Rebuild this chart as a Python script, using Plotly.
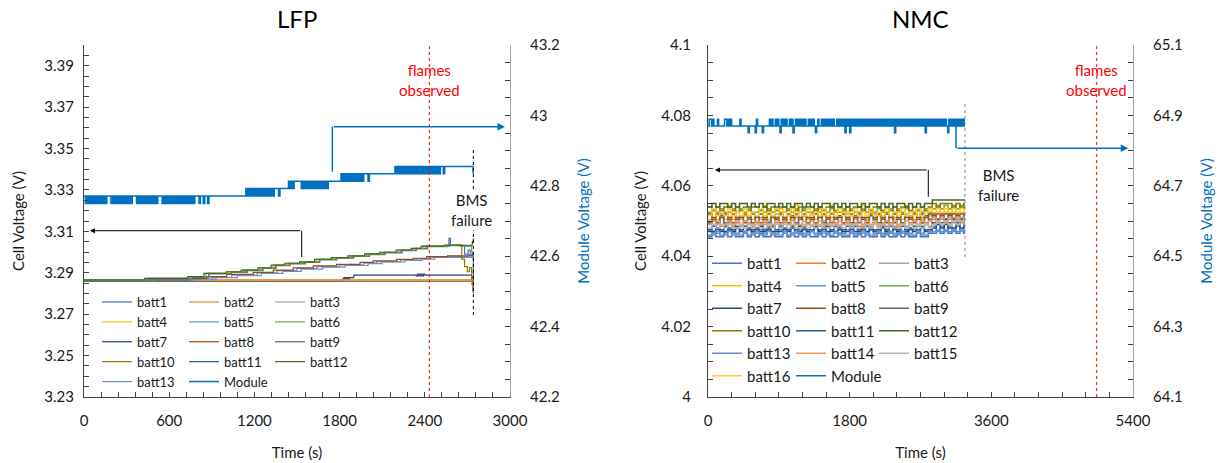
import plotly.graph_objects as go

W, H = 1224, 463
FONT = "Lato"
TXT = "#1a1a1a"
PAL = ["#4472C4", "#ED7D31", "#A5A5A5", "#FFC000", "#5B9BD5", "#70AD47", "#264478", "#9E480E",
       "#636363", "#997300", "#255E91", "#43682B", "#698ED0", "#F1975A", "#B7B7B7", "#FFCD33"]
MODULE_COLOR = "#0070C0"

# ---------------- LFP cell data (time s, voltage V) ----------------
lfp_b1_t = [0, 470, 770, 880, 1040, 1150, 1260, 1350, 1450, 1560, 1660, 1780, 1900, 2010, 2120, 2240, 2340, 2420, 2560, 2570, 2580, 2680, 2705, 2720, 2735, 2742]
lfp_b1_v = [3.2865, 3.2870, 3.2878, 3.2894, 3.2902, 3.2910, 3.2921, 3.2934, 3.2943, 3.2950, 3.2962, 3.2970, 3.2979, 3.2988, 3.2996, 3.3007, 3.3015, 3.3026, 3.3031, 3.3066, 3.3031, 3.2990, 3.3010, 3.2986, 3.2995, 3.2802]
lfp_b2_t = [0, 2735, 2742]
lfp_b2_v = [3.2866, 3.2840, 3.2815]
lfp_b3_t = [0, 2730, 2742]
lfp_b3_v = [3.2862, 3.2850, 3.2825]
lfp_b4_t = [0, 2735, 2742]
lfp_b4_v = [3.2864, 3.2855, 3.2830]
lfp_b5_t = [0, 780, 900, 1040, 1220, 1360, 1500, 1640, 1800, 1970, 2060, 2230, 2340, 2440, 2560, 2600, 2700, 2742]
lfp_b5_v = [3.2865, 3.2870, 3.2878, 3.2889, 3.2899, 3.2910, 3.2921, 3.2930, 3.2938, 3.2947, 3.2954, 3.2962, 3.2967, 3.2975, 3.2980, 3.2978, 3.2985, 3.2990]
lfp_b6_t = [0, 441, 746, 859, 1016, 1122, 1239, 1333, 1427, 1533, 1639, 1756, 1873, 1991, 2096, 2213, 2319, 2389, 2554, 2700, 2730, 2742]
lfp_b6_v = [3.2865, 3.2873, 3.2881, 3.2897, 3.2905, 3.2913, 3.2924, 3.2937, 3.2946, 3.2953, 3.2965, 3.2973, 3.2982, 3.2991, 3.2999, 3.3010, 3.3018, 3.3029, 3.3034, 3.3030, 3.3000, 3.2990]
lfp_b7_t = [0, 440, 510, 1820, 1830, 1840, 1850, 1860, 1870, 1900, 2340, 2350, 2360, 2370, 2380, 2390, 2400, 2730, 2742]
lfp_b7_v = [3.2861, 3.2869, 3.2861, 3.2869, 3.2877, 3.2869, 3.2877, 3.2869, 3.2877, 3.2889, 3.2885, 3.2893, 3.2885, 3.2893, 3.2885, 3.2893, 3.2889, 3.2880, 3.2802]
lfp_b8_t = [0, 746, 864, 1005, 1192, 1333, 1474, 1615, 1779, 1944, 2037, 2202, 2319, 2413, 2560, 2742]
lfp_b8_v = [3.2865, 3.2873, 3.2881, 3.2892, 3.2902, 3.2913, 3.2924, 3.2933, 3.2941, 3.2950, 3.2957, 3.2965, 3.2970, 3.2978, 3.2982, 3.2982]
lfp_b9_t = [0, 2732, 2742]
lfp_b9_v = [3.2860, 3.2845, 3.2812]
lfp_b10_t = [0, 461, 766, 879, 1036, 1142, 1259, 1353, 1447, 1553, 1659, 1776, 1893, 2011, 2116, 2233, 2339, 2409, 2574, 2660, 2680, 2700, 2715, 2730, 2742]
lfp_b10_v = [3.2865, 3.2873, 3.2881, 3.2897, 3.2905, 3.2913, 3.2924, 3.2937, 3.2946, 3.2953, 3.2965, 3.2973, 3.2982, 3.2991, 3.2999, 3.3010, 3.3018, 3.3029, 3.3034, 3.2966, 3.2930, 3.2905, 3.2925, 3.2865, 3.2817]
lfp_b11_t = [0, 2738, 2742]
lfp_b11_v = [3.2861, 3.2855, 3.2830]
lfp_b12_t = [0, 426, 731, 844, 1001, 1107, 1224, 1318, 1412, 1518, 1624, 1741, 1858, 1976, 2081, 2198, 2304, 2374, 2539, 2650, 2720, 2735, 2742]
lfp_b12_v = [3.2865, 3.2873, 3.2881, 3.2897, 3.2905, 3.2913, 3.2924, 3.2937, 3.2946, 3.2953, 3.2965, 3.2973, 3.2982, 3.2991, 3.2999, 3.3010, 3.3018, 3.3029, 3.3034, 3.3030, 3.3034, 3.3050, 3.3067]
lfp_b13_t = [0, 800, 930, 1080, 1250, 1400, 1530, 1680, 1840, 2000, 2100, 2260, 2380, 2470, 2742]
lfp_b13_v = [3.2865, 3.2869, 3.2877, 3.2886, 3.2897, 3.2907, 3.2918, 3.2927, 3.2935, 3.2944, 3.2952, 3.2960, 3.2966, 3.2974, 3.2978]

# LFP module: one reading every 10 s, digit = level index (42.750 V + k * 0.021 V)
lfp_module_dt = 10
lfp_module_base = 42.750
lfp_module_lsb = 0.021
lfp_module_codes = (
    "1010101010" "1010101110" "1010101010" "1010111010" "1010101010" "1011101010" "1010101010" "1010101011" "10"
    "1101101111" "1111111111" "1111111111" "11"
    "2121212121" "21212121"
    "2122212222" "22"
    "3232333332" "3232323232" "323232323"
    "33333333"
    "4343434343" "4343434443" "4"
    "4444444444" "4444444"
    "5454545454" "5454545454" "5454545454" "54"
    "5545555555" "5555555555" "55"
    "54"
)

# ---------------- NMC data ----------------
# cells: one reading every 50 s, digit = offset in mV above each cell's base voltage
nmc_cell_dt = 50
nmc_end_t = 3265
nmc_base = [4.0455, 4.0485, 4.0490, 4.0505, 4.0465, 4.0525, 4.0470, 4.0510,
            4.0495, 4.0530, 4.0475, 4.0540, 4.0460, 4.0490, 4.0480, 4.0515]
nmc_b1_codes = "01001010010" "10100100101" "01010010100" "10010101001" "01001010010" "01121212121"
nmc_b2_codes = "10100101001" "01010010110" "10010100101" "01101001010" "10100101001" "10212121212"
nmc_b3_codes = "01030102010" "00201030100" "20103001020" "10300201030" "01020030102" "01212132121"
nmc_b4_codes = "03010402013" "01040203010" "40102031040" "12030140201" "03102041030" "21323232323"
nmc_b5_codes = "10010100101" "00101001010" "01001010010" "10100100101" "01001010100" "11212121212"
nmc_b6_codes = "01010010101" "00101010010" "10100101010" "01010010101" "00101010010" "10121212121"
nmc_b7_codes = "00100101001" "01001000101" "00100101000" "10010010100" "10010001001" "00121211212"
nmc_b8_codes = "10101010010" "10101001010" "10100101010" "01010100101" "01010100101" "01111111111"
nmc_b9_codes = "01020101201" "02010210102" "01201020101" "20102010210" "10201021010" "21212121212"
nmc_b10_codes = "10101101010" "11010101101" "01011010110" "10101101011" "01010110101" "01212221212"
nmc_b11_codes = "01001001010" "00100101001" "01000100101" "00101001000" "10100100101" "00232323232"
nmc_b12_codes = "01011010110" "10101101010" "11010101101" "01011010110" "10101101010" "11222222222"
nmc_b13_codes = "00100100010" "01001000100" "10001001001" "00010010001" "00100100010" "01111111111"
nmc_b14_codes = "10100101010" "01010010101" "00101010010" "10100101010" "01010010101" "01212121212"
nmc_b15_codes = "01010100101" "01001010101" "00101010010" "10101001010" "10100101010" "10121212121"
nmc_b16_codes = "02010201020" "10201020102" "01020102010" "20102010201" "02010201020" "12121212121"

# NMC module: one reading every 15 s, digit = level index (64.851 V + k * 0.019 V)
nmc_module_dt = 15
nmc_module_base = 64.851
nmc_module_lsb = 0.019
nmc_module_codes = (
    "122121" "11211111221" "21211111112" "1111110111110" "2111101111"
    "1212112121021212112120121"
    "2121212112121210121121212121212112121212021"
    "2021212121" "2121212121" "2121212121" "2121212120" "2121212121"
    "2121212121" "2121202121" "2121212121" "2121021212" "121212121"
)

lfp_cells = [(lfp_b1_t, lfp_b1_v), (lfp_b2_t, lfp_b2_v), (lfp_b3_t, lfp_b3_v), (lfp_b4_t, lfp_b4_v),
             (lfp_b5_t, lfp_b5_v), (lfp_b6_t, lfp_b6_v), (lfp_b7_t, lfp_b7_v), (lfp_b8_t, lfp_b8_v),
             (lfp_b9_t, lfp_b9_v), (lfp_b10_t, lfp_b10_v), (lfp_b11_t, lfp_b11_v), (lfp_b12_t, lfp_b12_v),
             (lfp_b13_t, lfp_b13_v)]
nmc_codes = [nmc_b1_codes, nmc_b2_codes, nmc_b3_codes, nmc_b4_codes, nmc_b5_codes, nmc_b6_codes,
             nmc_b7_codes, nmc_b8_codes, nmc_b9_codes, nmc_b10_codes, nmc_b11_codes, nmc_b12_codes,
             nmc_b13_codes, nmc_b14_codes, nmc_b15_codes, nmc_b16_codes]
# drawing order (dark flat lines underneath, staircases on top); legend order kept via legendrank
lfp_draw_order = [8, 10, 6, 2, 3, 1, 12, 4, 7, 0, 9, 5, 11]

LFP_LEG = ["legend", "legend2", "legend3"]
NMC_LEG = ["legend4", "legend5", "legend6"]

fig = go.Figure()

# ---- LFP traces ----
for i in lfp_draw_order:
    t, v = lfp_cells[i]
    fig.add_trace(go.Scatter(x=t, y=v, mode="lines", name=f"batt{i+1}", line=dict(color=PAL[i], width=1.2, shape="hv"),
                             xaxis="x", yaxis="y", legend=LFP_LEG[i % 3], legendrank=i + 1))
lfp_mod_t = [k * lfp_module_dt for k in range(len(lfp_module_codes))]
lfp_mod_v = [lfp_module_base + int(c) * lfp_module_lsb for c in lfp_module_codes]
fig.add_trace(go.Scatter(x=lfp_mod_t, y=lfp_mod_v, mode="lines", name="Module",
                         line=dict(color=MODULE_COLOR, width=1.5, shape="hv"),
                         xaxis="x", yaxis="y2", legend=LFP_LEG[13 % 3], legendrank=14))

# ---- NMC traces ----
for i, codes in enumerate(nmc_codes):
    t = [k * nmc_cell_dt for k in range(len(codes))] + [nmc_end_t]
    v = [nmc_base[i] + int(c) * 0.001 for c in codes]
    v = v + [v[-1]]
    fig.add_trace(go.Scatter(x=t, y=v, mode="lines", name=f"batt{i+1}", line=dict(color=PAL[i], width=1.5, shape="hv"),
                             xaxis="x2", yaxis="y3", legend=NMC_LEG[i % 3], legendrank=i + 1))
nmc_mod_t = [k * nmc_module_dt for k in range(len(nmc_module_codes))] + [nmc_end_t]
nmc_mod_v = [nmc_module_base + int(c) * nmc_module_lsb for c in nmc_module_codes]
nmc_mod_v = nmc_mod_v + [nmc_mod_v[-1]]
fig.add_trace(go.Scatter(x=nmc_mod_t, y=nmc_mod_v, mode="lines", name="Module",
                         line=dict(color=MODULE_COLOR, width=1.5, shape="hv"),
                         xaxis="x2", yaxis="y4", legend=NMC_LEG[16 % 3], legendrank=17))

# ---------------- layout ----------------
def px_x(p):
    return p / W

def px_y(p):
    return 1 - p / H

XD1 = [px_x(84), px_x(510)]
XD2 = [px_x(708), px_x(1133)]
YD = [px_y(397), px_y(45)]
AX_DARK = "#404040"
AX_GRAY = "#a6a6a6"
tickfont = dict(family=FONT, size=15, color=TXT)
titlefont = dict(family=FONT, size=15, color=TXT)


def xax(domain, rng, dt, mdt, anchor):
    return dict(domain=domain, range=rng, tick0=0, dtick=dt, ticks="inside", ticklen=5, tickcolor=AX_DARK,
                minor=dict(dtick=mdt, ticks="inside", ticklen=5, tickcolor=AX_DARK),
                showline=True, linecolor=AX_DARK, linewidth=1, showgrid=False, zeroline=False,
                anchor=anchor, tickfont=tickfont, ticklabelstandoff=10, automargin=False,
                title=dict(text="Time (s)", font=titlefont, standoff=19))


def xtop(over, rng, dt, mdt, anchor):
    return dict(overlaying=over, side="top", range=rng, tick0=0, dtick=dt, ticks="inside", ticklen=5,
                tickcolor=AX_DARK, minor=dict(dtick=mdt, ticks="inside", ticklen=5, tickcolor=AX_DARK),
                showline=True, linecolor=AX_GRAY, linewidth=1, showgrid=False, zeroline=False,
                showticklabels=False, anchor=anchor, automargin=False)


def yleft(rng, t0, dt, mdt, anchor, lab_off, standoff):
    return dict(domain=YD, range=rng, tick0=t0, dtick=dt, ticks="inside", ticklen=5, tickcolor=AX_DARK,
                minor=dict(dtick=mdt, ticks="inside", ticklen=5, tickcolor=AX_DARK),
                showline=True, linecolor=AX_DARK, linewidth=1, showgrid=False, zeroline=False,
                anchor=anchor, tickfont=tickfont, ticklabelstandoff=lab_off, automargin=False,
                title=dict(text="Cell Voltage (V)", font=titlefont, standoff=standoff))


def yright(over, rng, t0, dt, mdt, anchor, lab_off, standoff):
    return dict(overlaying=over, side="right", range=rng, tick0=t0, dtick=dt, ticks="inside", ticklen=5,
                tickcolor=AX_DARK, minor=dict(dtick=mdt, ticks="inside", ticklen=5, tickcolor=AX_DARK),
                showline=True, linecolor=AX_GRAY, linewidth=1, showgrid=False, zeroline=False,
                anchor=anchor, tickfont=tickfont, ticklabelstandoff=lab_off, automargin=False,
                title=dict(text="Module Voltage (V)", font=dict(family=FONT, size=15, color=MODULE_COLOR),
                           standoff=standoff))


def legend(xpx, ypx, size):
    return dict(x=px_x(xpx), y=px_y(ypx), xanchor="left", yanchor="top", orientation="v",
                bgcolor="rgba(0,0,0,0)", font=dict(family=FONT, size=size, color=TXT),
                tracegroupgap=0, itemwidth=30)


fig.update_layout(
    width=W, height=H, margin=dict(l=0, r=0, t=0, b=0, pad=0), autosize=False,
    paper_bgcolor="white", plot_bgcolor="white", font=dict(family=FONT, color=TXT),
    showlegend=True,
    xaxis=xax(XD1, [0, 3000], 600, 120, "y"),
    xaxis2=xax(XD2, [0, 5400], 1800, 300, "y3"),
    xaxis3=xtop("x", [0, 3000], 600, 120, "y"),
    xaxis4=xtop("x2", [0, 5400], 1800, 300, "y3"),
    yaxis=yleft([3.23, 3.40], 3.23, 0.02, 0.005, "x", 6, 16),
    yaxis2=yright("y", [42.2, 43.2], 42.2, 0.2, 0.05, "x", 16, 19),
    yaxis3=yleft([4.0, 4.1], 4.0, 0.02, 0.005, "x2", 13, 11),
    yaxis4=yright("y3", [64.1, 65.1], 64.1, 0.2, 0.05, "x2", 16, 19),
    legend=legend(97, 287, 13),
    legend2=legend(184, 287, 13),
    legend3=legend(270, 287, 13),
    legend4=legend(707, 247, 15),
    legend5=legend(791, 247, 15),
    legend6=legend(874, 247, 15),
)

RED = "#FF0000"
DASH = "3px,3px"
shapes = [
    # event markers
    dict(type="line", xref="x", yref="y domain", x0=2432, x1=2432, y0=0, y1=1, line=dict(color=RED, width=1, dash=DASH)),
    dict(type="line", xref="x", yref="y", x0=2742, x1=2742, y0=3.2696, y1=3.3502, line=dict(color="#000000", width=1, dash=DASH)),
    dict(type="line", xref="x2", yref="y3 domain", x0=4939, x1=4939, y0=0, y1=1, line=dict(color=RED, width=1, dash=DASH)),
    dict(type="line", xref="x2", yref="y3", x0=3265, x1=3265, y0=4.0398, y1=4.0841, line=dict(color="#7f7f7f", width=1, dash=DASH)),
    # axis-indicator arrows (vertical legs)
    dict(type="line", xref="x", yref="y", x0=1533, x1=1533, y0=3.2976, y1=3.3103, line=dict(color="#000000", width=1)),
    dict(type="line", xref="x", yref="y2", x0=1749, x1=1749, y0=42.84, y1=42.968, line=dict(color=MODULE_COLOR, width=1.5)),
    dict(type="line", xref="x2", yref="y3", x0=2799, x1=2799, y0=4.0569, y1=4.0645, line=dict(color="#000000", width=1)),
    dict(type="line", xref="x2", yref="y4", x0=3151, x1=3151, y0=64.870, y1=64.807, line=dict(color=MODULE_COLOR, width=1.5)),
]

ann = [
    dict(text="LFP", xref="paper", yref="paper", x=(XD1[0] + XD1[1]) / 2, y=px_y(18), showarrow=False,
         font=dict(family=FONT, size=24, color="#000000"), xanchor="center", yanchor="middle"),
    dict(text="NMC", xref="paper", yref="paper", x=(XD2[0] + XD2[1]) / 2, y=px_y(18), showarrow=False,
         font=dict(family=FONT, size=24, color="#000000"), xanchor="center", yanchor="middle"),
    dict(text="flames<br>observed", xref="x", yref="paper", x=2432, y=px_y(80), showarrow=False,
         font=dict(family=FONT, size=15, color=RED), xanchor="center", yanchor="middle"),
    dict(text="flames<br>observed", xref="x2", yref="paper", x=4939, y=px_y(80), showarrow=False,
         font=dict(family=FONT, size=15, color=RED), xanchor="center", yanchor="middle"),
    dict(text="BMS<br>failure", xref="x", yref="paper", x=2731, y=px_y(210), showarrow=False,
         font=dict(family=FONT, size=15, color=TXT), xanchor="center", yanchor="middle", bgcolor="white"),
    dict(text="BMS<br>failure", xref="x2", yref="paper", x=3685, y=px_y(185), showarrow=False,
         font=dict(family=FONT, size=15, color=TXT), xanchor="center", yanchor="middle"),
    # arrow heads (horizontal legs)
    dict(text="", xref="x", yref="y", x=42, y=3.3103, axref="x", ayref="y", ax=1533, ay=3.3103,
         showarrow=True, arrowhead=2, arrowsize=1, arrowwidth=1, arrowcolor="#000000", standoff=0),
    dict(text="", xref="x", yref="y2", x=2965, y=42.968, axref="x", ayref="y2", ax=1749, ay=42.968,
         showarrow=True, arrowhead=2, arrowsize=1, arrowwidth=1.5, arrowcolor=MODULE_COLOR, standoff=0),
    dict(text="", xref="x2", yref="y3", x=89, y=4.0645, axref="x2", ayref="y3", ax=2799, ay=4.0645,
         showarrow=True, arrowhead=2, arrowsize=1, arrowwidth=1, arrowcolor="#000000", standoff=0),
    dict(text="", xref="x2", yref="y4", x=5340, y=64.807, axref="x2", ayref="y4", ax=3151, ay=64.807,
         showarrow=True, arrowhead=2, arrowsize=1, arrowwidth=1.5, arrowcolor=MODULE_COLOR, standoff=0),
]
fig.update_layout(shapes=shapes, annotations=ann)

# remove the browser's default 8 px page margin so the figure fills the window exactly
fig.write_html("out.html", config={"displayModeBar": False},
               post_script="document.body.style.margin='0px';")
